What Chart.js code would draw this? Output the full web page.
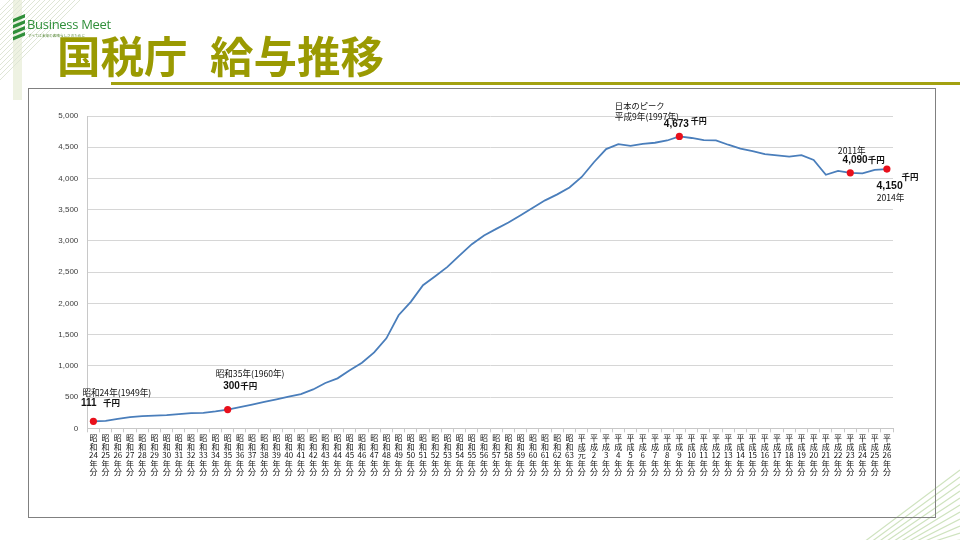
<!DOCTYPE html>
<html><head><meta charset="utf-8">
<script src="https://cdn.jsdelivr.net/npm/chart.js@4.4.0/dist/chart.umd.min.js"></script>
<style>
html,body{margin:0;padding:0;background:#fff;}
#stage{position:relative;width:960px;height:540px;overflow:hidden;background:#fff;}
#deco{position:absolute;left:0;top:0;}
.title{position:absolute;top:33px;font-family:"Noto Sans CJK JP",sans-serif;font-size:43.5px;font-weight:bold;color:#9a9a02;line-height:1;white-space:nowrap;}
#rule{position:absolute;left:111px;top:82px;width:849px;height:3px;background:#a3a110;}
#frame{position:absolute;left:28px;top:88px;width:906px;height:428px;border:1px solid #808080;}
#chart{position:absolute;left:29px;top:89px;}
#logo{position:absolute;left:27px;top:15px;font-family:"Open Sans",sans-serif;font-size:13px;color:#2f8f3a;white-space:nowrap;letter-spacing:-0.3px;}
#logosub{position:absolute;left:28px;top:33px;font-family:"Noto Sans CJK JP",sans-serif;font-size:3.6px;color:#5a8a3a;white-space:nowrap;}
</style></head>
<body>
<div id="stage">
<canvas id="deco" width="960" height="540"></canvas>
<div id="logo">Business Meet</div>
<div id="logosub">すべては未来の素晴らしさのために</div>
<div class="title" style="left:57px">国税庁</div>
<div class="title" style="left:210px">給与推移</div>
<div id="rule"></div>
<div id="frame"></div>
<canvas id="chart" width="906" height="428"></canvas>
</div>
<script>
// ---- data ----
const categories = [
 '昭和24年分','昭和25年分','昭和26年分','昭和27年分','昭和28年分','昭和29年分','昭和30年分','昭和31年分','昭和32年分','昭和33年分',
 '昭和34年分','昭和35年分','昭和36年分','昭和37年分','昭和38年分','昭和39年分','昭和40年分','昭和41年分','昭和42年分','昭和43年分',
 '昭和44年分','昭和45年分','昭和46年分','昭和47年分','昭和48年分','昭和49年分','昭和50年分','昭和51年分','昭和52年分','昭和53年分',
 '昭和54年分','昭和55年分','昭和56年分','昭和57年分','昭和58年分','昭和59年分','昭和60年分','昭和61年分','昭和62年分','昭和63年分',
 '平成元年分','平成2年分','平成3年分','平成4年分','平成5年分','平成6年分','平成7年分','平成8年分','平成9年分','平成10年分',
 '平成11年分','平成12年分','平成13年分','平成14年分','平成15年分','平成16年分','平成17年分','平成18年分','平成19年分','平成20年分',
 '平成21年分','平成22年分','平成23年分','平成24年分','平成25年分','平成26年分'
];
const salary = [
 111,120,150,178,195,203,210,227,244,248,
 270,300,338,380,423,465,507,548,622,725,
 800,930,1050,1215,1440,1810,2025,2290,2435,2585,
 2770,2948,3087,3193,3295,3410,3530,3650,3745,3855,
 4024,4260,4470,4550,4522,4555,4572,4608,4673,4648,
 4613,4610,4540,4478,4439,4388,4368,4349,4372,4296,
 4059,4120,4090,4080,4136,4150
];
const highlighted = ['昭和24年分','昭和35年分','平成9年分','平成23年分','平成26年分'];
const yTicks = [0,500,1000,1500,2000,2500,3000,3500,4000,4500,5000];

// ---- decoration (not data) ----
(function(){
  const c = document.getElementById('deco').getContext('2d');
  c.fillStyle = '#eef2e2'; c.fillRect(13,0,9,100);
  c.strokeStyle = '#dfe6d6'; c.lineWidth = 1;
  for (let k = 10; k <= 80; k += 5) { c.beginPath(); c.moveTo(0,k); c.lineTo(k,0); c.stroke(); }
  c.fillStyle = '#2f8f3a';
  for (let j = 0; j < 4; j++) {
    const y = 14 + j*6;
    c.beginPath(); c.moveTo(13,y+5); c.lineTo(25,y); c.lineTo(25,y+3.5); c.lineTo(13,y+8.5); c.closePath(); c.fill();
  }
  c.strokeStyle = '#cfe3bf'; c.lineWidth = 1.2;
  for (let k = 0; k < 14; k++) { c.beginPath(); c.moveTo(860+k*7,545); c.lineTo(960,470+k*7); c.stroke(); }
})();

const F_NOTE = '8.6px "Noto Sans CJK JP"';
const F_NUM = 'bold 10px "Liberation Sans"';
const F_UNIT = 'bold 8.5px "Noto Sans CJK JP"';
const fmt = v => v.toLocaleString('en-US');
const idx = name => categories.indexOf(name);

const notes = [
  {cat:'昭和24年分', items:[
    {t:'昭和24年(1949年)', dx:-11, dy:-29, f:F_NOTE},
    {v:true, dx:-12.5, dy:-18, f:F_NUM},
    {t:'千円', dx:9.5, dy:-19, f:F_UNIT}]},
  {cat:'昭和35年分', items:[
    {t:'昭和35年(1960年)', dx:-12, dy:-36, f:F_NOTE},
    {v:true, dx:-4.5, dy:-23, f:F_NUM},
    {t:'千円', dx:12.5, dy:-23.5, f:F_UNIT}]},
  {cat:'平成9年分', items:[
    {t:'日本のピーク', dx:-64.5, dy:-31, f:'8.3px "Noto Sans CJK JP"'},
    {t:'平成9年(1997年)', dx:-64.5, dy:-20, f:F_NOTE},
    {v:true, dx:-15.5, dy:-11.8, f:F_NUM},
    {t:'千円', dx:11.5, dy:-15.4, f:'bold 8px "Noto Sans CJK JP"'}]},
  {cat:'平成23年分', items:[
    {t:'2011年', dx:-12.4, dy:-22.3, f:F_NOTE},
    {v:true, dx:-7.7, dy:-12.6, f:F_NUM},
    {t:'千円', dx:17.5, dy:-13.1, f:F_UNIT}]},
  {cat:'平成26年分', items:[
    {t:'千円', dx:14.6, dy:7.9, f:F_UNIT},
    {v:true, dx:-10.4, dy:16.9, f:'bold 10.5px "Liberation Sans"'},
    {t:'2014年', dx:-10.1, dy:28.6, f:F_NOTE}]}
];

const notePlugin = {
  id:'notes',
  afterDatasetsDraw(chart){
    const ctx = chart.ctx, xs = chart.scales.x, ys = chart.scales.y;
    ctx.save();
    ctx.textAlign = 'left'; ctx.textBaseline = 'middle'; ctx.fillStyle = '#111';
    notes.forEach(n => {
      const i = idx(n.cat);
      const px = xs.getPixelForValue(i), py = ys.getPixelForValue(salary[i]);
      n.items.forEach(it => {
        ctx.font = it.f;
        ctx.fillText(it.v ? fmt(salary[i]) : it.t, px + it.dx, py + it.dy);
      });
    });
    ctx.restore();
  }
};

function stackLabel(label){
  const m = label.match(/^(.)(.)(\d+|元)(年)(分)$/);
  return m ? [m[1], m[2], m[3], m[4], m[5]] : label;
}

new Chart(document.getElementById('chart'), {
  type:'line',
  data:{
    labels: categories,
    datasets:[{
      data: salary,
      borderColor:'#4a7ebb',
      borderWidth:1.8,
      tension:0,
      pointRadius: categories.map(c => highlighted.includes(c) ? 3.6 : 0),
      pointBackgroundColor:'#e8101c',
      pointBorderColor:'#e8101c',
      pointBorderWidth:0
    }]
  },
  options:{
    responsive:false,
    devicePixelRatio:1,
    animation:false,
    layout:{padding:{top:27,right:42,left:0,bottom:0}},
    plugins:{legend:{display:false}, tooltip:{enabled:false}},
    scales:{
      x:{
        type:'category',
        offset:true,
        grid:{drawOnChartArea:false, drawTicks:true, tickLength:4, color:'#c8c8c8', offset:true},
        border:{color:'#c8c8c8'},
        ticks:{
          autoSkip:false, maxRotation:0, minRotation:0, padding:1.5,
          color:'#111',
          font:{family:'"Noto Sans CJK JP"', size:8, lineHeight:1.06},
          callback:function(v){ return stackLabel(this.getLabelForValue(v)); }
        },
        afterFit(s){ s.height = 88.7; }
      },
      y:{
        min:0, max:5000,
        afterBuildTicks(s){ s.ticks = yTicks.map(v => ({value:v})); },
        grid:{color:'#d6d6d6', lineWidth:1, drawTicks:false},
        border:{color:'#c8c8c8'},
        ticks:{padding:9, color:'#404040', font:{family:'"Liberation Sans"', size:8},
          callback:v => fmt(v)},
        afterFit(s){ s.width = 58.3; }
      }
    }
  },
  plugins:[notePlugin]
});
</script>
</body></html>
